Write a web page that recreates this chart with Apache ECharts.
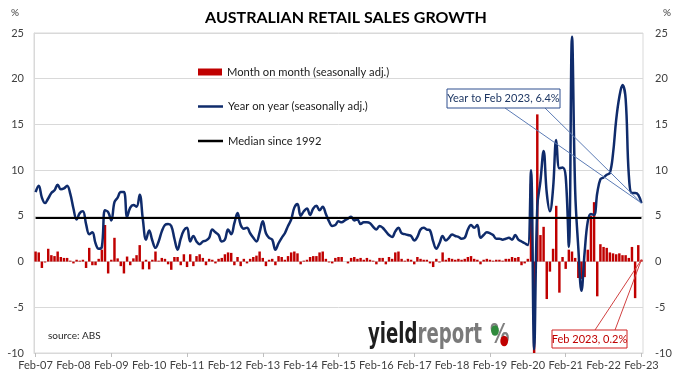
<!DOCTYPE html>
<html><head><meta charset="utf-8">
<script src="https://cdn.jsdelivr.net/npm/echarts/dist/echarts.min.js"></script>
<style>html,body{margin:0;padding:0;background:#fff}#c{width:690px;height:378px}</style>
</head><body><div id="c"></div>
<script>
// ---------- DATA ----------
const monthNames = ['Jan','Feb','Mar','Apr','May','Jun','Jul','Aug','Sep','Oct','Nov','Dec'];
// Feb-07 .. Feb-23 (193 months)
const categories = [];
for (let k = 0; k < 193; k++) {
  const m = (1 + k) % 12;
  const y = 7 + Math.floor((1 + k) / 12);
  categories.push(monthNames[m] + '-' + String(y).padStart(2, '0'));
}
const yTicks = [-10, -5, 0, 5, 10, 15, 20, 25];

// Month on month (seasonally adj.), %
const momChange = [
  1.1, 1.0, -0.7, -0.1, 1.4, 0.7, 0.6, 1.1, 0.5, 0.4, 0.4,               // Feb-Dec 07
  0.1, -0.2, 0.2, 0.1, 0.2, -0.7, 1.5, -0.4, -0.4, 0.3, 1.3, 4.0,        // 08
  -1.3, 0.2, 2.6, 0.35, -0.5, -1.3, 0.55, -0.4, 0.35, 0.7, 1.8, -0.85,   // 09
  0.2, -0.85, 0.2, 1.1, 0.1, 0.4, 0.3, -0.3, -0.9, 0.5, 0.5, -0.4,       // 10
  0.8, -0.6, 0.8, -0.5, 0.6, 0.8, 0.4, -0.4, 0.3, 0.2, -0.2, 0.3,        // 11
  0.4, 0.8, 1.0, 0.95, -0.4, 0.5, -0.5, 0.3, -0.2, 0.3, 0.5, 0.65,       // 12
  1.1, 0.4, -0.5, 0.2, 0.3, -0.4, 0.6, 0.5, 0.2, 0.6, 1.0, 1.1,          // 13
  0.9, -0.3, 0.1, 0.2, 0.5, 0.6, 0.6, 1.0, 1.1, 0.3, -0.1, -0.2,         // 14
  0.4, 0.5, 0.5, 0.0, -0.2, 0.4, 0.5, 0.3, 0.4, 0.2, 0.4, 0.2,           // 15
  0.1, -0.3, 0.4, 0.4, -0.3, 0.5, 0.3, 1.0, 1.1, 0.3, 0.1, 0.3,          // 16
  0.2, -0.3, 0.5, 0.3, 0.2, 0.2, -0.2, -0.6, 0.3, -0.1, 1.0, 0.2,        // 17
  0.4, 0.3, 0.2, 0.3, 0.2, 0.3, 0.5, 0.6, 0.3, 0.2, -0.3, 0.2,           // 18
  0.3, 0.2, 0.1, 0.2, 0.2, 0.1, 0.3, 0.3, 0.5, 0.4, 0.5, -0.4,           // 19
  -0.2, 0.3, 8.5, -17.7, 16.1, 2.9, 3.8, -4.1, -1.1, 1.4, 6.1, -3.4,     // 20
  0.5, -0.8, 1.3, 1.1, 0.4, -1.8, -1.9, -1.7, 1.3, 5.0, 6.5, -3.8,       // 21
  1.9, 1.6, 1.5, 1.0, 0.9, 0.8, 0.9, 0.7, 0.7, 0.4, 1.6, -4.0,           // 22
  1.8, 0.2                                                               // Jan-Feb 23
];

// Year on year (seasonally adj.), %
const yoyChange = [
  7.6, 8.3, 7.0, 6.4, 6.9, 7.5, 7.8, 8.4, 7.9, 8.0, 8.3,                 // Feb-Dec 07
  7.4, 5.8, 4.6, 5.3, 5.5, 4.1, 3.0, 3.2, 2.0, 1.4, 1.6, 5.6,            // 08
  5.4, 4.5, 6.5, 7.0, 7.6, 7.6, 4.9, 5.9, 6.2, 6.0, 7.3, 4.6,            // 09
  2.4, 3.4, 2.3, 1.5, 2.2, 3.3, 4.0, 4.1, 3.9, 2.5, 1.3, 2.5,            // 10
  3.4, 3.7, 2.2, 2.8, 2.2, 1.9, 2.2, 2.3, 2.6, 3.5, 3.2, 2.9,            // 11
  2.2, 2.4, 3.5, 3.0, 4.2, 5.3, 4.0, 3.6, 3.7, 3.1, 2.6, 2.2,            // 12
  3.2, 4.4, 3.1, 2.6, 2.4, 1.3, 2.0, 2.6, 3.1, 3.9, 4.6, 5.9,            // 13
  6.3, 5.0, 5.5, 5.8, 5.1, 5.8, 6.1, 5.6, 6.0, 5.2, 4.4, 3.9,            // 14
  4.0, 4.4, 4.3, 4.5, 4.7, 4.9, 4.5, 4.6, 4.1, 4.3, 4.3, 4.2,            // 15
  3.8, 3.5, 3.9, 3.7, 3.3, 2.9, 2.7, 3.3, 3.7, 3.1, 3.0, 2.9,            // 16
  2.8, 2.3, 2.7, 3.5, 3.7, 3.5, 3.4, 2.2, 1.4, 2.0, 2.8, 2.3,            // 17
  2.6, 2.95, 2.8, 2.7, 2.5, 2.6, 3.5, 4.0, 3.7, 4.0, 2.6, 2.9,           // 18
  3.2, 3.1, 2.9, 2.5, 2.5, 2.4, 2.5, 2.6, 2.4, 2.9, 2.4, 2.2,            // 19
  2.0, 1.8, 10.0, -9.6, 6.0, 8.8, 12.1, 7.5, 5.5, 8.0, 13.3, 10.2,       // 20
  10.3, 9.3, 1.6, 24.6, 7.8, 1.5, -3.2, 1.0, 4.4, 5.2, 5.1, 7.5,         // 21
  9.0, 9.2, 9.5, 9.7, 11.8, 15.5, 18.0, 19.3, 17.8, 9.5, 7.5, 7.5,       // 22
  7.3, 6.4                                                               // Jan-Feb 23
];

const medianSince1992 = 4.75;

const seriesNames = ['Month on month (seasonally adj.)', 'Year on year (seasonally adj.)', 'Median since 1992'];

// ---------- CHART ----------
const FONT = 'Lato, "Open Sans", sans-serif';
const LOGOFONT = '"DejaVu Sans Condensed", "DejaVu Sans", sans-serif';
const NAVY = '#0f2b6b';
const RED = '#c00000';
const chart = echarts.init(document.getElementById('c'), null, {renderer: 'canvas'});

const legendText = {fontSize: 11.2, color: '#1a1a1a', fontFamily: FONT};
const option = {
  animation: false,
  textStyle: {fontFamily: FONT},
  grid: {left: 34, right: 47, top: 33, bottom: 25, show: true, borderColor: '#d9d9d9', borderWidth: 1},
  xAxis: {
    type: 'category', data: categories, boundaryGap: true,
    axisLine: {onZero: false, lineStyle: {color: '#d9d9d9'}},
    axisTick: {show: true, alignWithLabel: true, interval: (i) => i % 24 === 0, length: 4, lineStyle: {color: '#bfbfbf'}},
    axisLabel: {interval: (i) => i % 12 === 0, color: '#404040', fontSize: 11, margin: 7, hideOverlap: false, fontFamily: FONT}
  },
  yAxis: [
    {type: 'value', min: yTicks[0], max: yTicks[yTicks.length - 1], interval: 5, position: 'left',
     axisLabel: {color: '#404040', fontSize: 11, margin: 10, fontFamily: FONT},
     axisLine: {show: true, lineStyle: {color: '#d9d9d9'}}, axisTick: {show: false},
     splitLine: {show: true, lineStyle: {color: '#d9d9d9', width: 1}}},
    {type: 'value', min: yTicks[0], max: yTicks[yTicks.length - 1], interval: 5, position: 'right',
     axisLabel: {color: '#404040', fontSize: 11, margin: 12, fontFamily: FONT},
     axisLine: {show: false}, axisTick: {show: false}, splitLine: {show: false}}
  ],
  legend: [
    {orient: 'vertical', left: 193, top: 61.5, itemWidth: 24, itemHeight: 7, itemGap: 23,
     textStyle: legendText, data: [{name: seriesNames[0], icon: 'rect'}]},
    {orient: 'vertical', left: 193, top: 96, itemWidth: 25, itemHeight: 2.5, itemGap: 23.5,
     textStyle: legendText, data: [{name: seriesNames[1], icon: 'rect'}, {name: seriesNames[2], icon: 'rect'}]}
  ],
  series: [
    {name: seriesNames[0], type: 'bar', data: momChange, clip: true, barCategoryGap: '22%',
     itemStyle: {color: RED}},
    {name: seriesNames[2], type: 'line', data: [], symbol: 'none',
     lineStyle: {color: '#000', width: 2}, itemStyle: {color: '#000'},
     markLine: {silent: true, symbol: 'none', label: {show: false}, lineStyle: {color: '#000', width: 2, type: 'solid'},
       data: [[{coord: [0, medianSince1992]}, {coord: [categories.length - 1, medianSince1992]}]]}},
    {name: seriesNames[1], type: 'line', data: yoyChange, smooth: 0.4, symbol: 'none', showSymbol: false,
     lineStyle: {color: NAVY, width: 2.5}, itemStyle: {color: NAVY}}
  ]
};
chart.setOption(option);

const last = categories.length - 1;
const pY = chart.convertToPixel({xAxisIndex: 0, yAxisIndex: 0}, [last, yoyChange[last]]);
const pM = chart.convertToPixel({xAxisIndex: 0, yAxisIndex: 0}, [last, momChange[last]]);

const graphics = [
  {type: 'text', style: {text: 'AUSTRALIAN RETAIL SALES GROWTH', x: 346, y: 18, textAlign: 'center', textVerticalAlign: 'middle', font: 'bold 16px ' + FONT, fill: '#000'}},
  {type: 'text', style: {text: '%', x: 15, y: 13, textAlign: 'center', textVerticalAlign: 'middle', font: '10px ' + FONT, fill: '#404040'}},
  {type: 'text', style: {text: '%', x: 667, y: 13, textAlign: 'center', textVerticalAlign: 'middle', font: '10px ' + FONT, fill: '#404040'}},
  {type: 'text', style: {text: 'source: ABS', x: 48, y: 336, textAlign: 'left', textVerticalAlign: 'middle', font: '10px ' + FONT, fill: '#262626'}},
  // logo
  {type: 'text', x: 368, y: 336, scaleX: 0.72, scaleY: 1, style: {
    text: '{a|yield}{b|report}', x: 0, y: 0, textAlign: 'left', textVerticalAlign: 'middle',
    rich: {
      a: {fontSize: 28, fontWeight: 'bold', fontFamily: LOGOFONT, fill: '#1e1e1e'},
      b: {fontSize: 28, fontWeight: 'bold', fontFamily: LOGOFONT, fill: '#7a7a7a'}
    }}},
  {type: 'text', x: 490, y: 336, scaleX: 0.8, style: {text: '%', x: 0, y: 0, textAlign: 'left', textVerticalAlign: 'middle', font: 'bold 27px ' + LOGOFONT, fill: '#808080'}},
  {type: 'circle', x: 495, y: 330.5, scaleX: 0.75, shape: {cx: 0, cy: 0, r: 5.2}, style: {fill: '#2f8a3c'}, z: 5},
  {type: 'circle', x: 504.2, y: 341, scaleX: 0.75, shape: {cx: 0, cy: 0, r: 5.2}, style: {fill: '#c00000'}, z: 5},
  // callout: year on year
  {type: 'polyline', shape: {points: [[505, 108], pY, [545, 108]]}, style: {stroke: '#5b7bb5', fill: null, lineWidth: 1}, z: 50},
  {type: 'rect', shape: {x: 447, y: 89, width: 113, height: 19}, style: {fill: '#fff', stroke: '#2f4f8f', lineWidth: 1}, z: 51},
  {type: 'text', style: {text: 'Year to Feb 2023, 6.4%', x: 503.5, y: 98.5, textAlign: 'center', textVerticalAlign: 'middle', font: '11px ' + FONT, fill: '#1f3864'}, z: 52},
  // callout: month on month
  {type: 'polyline', shape: {points: [[595, 330], pM, [615, 330]]}, style: {stroke: '#d04040', fill: null, lineWidth: 1}, z: 50},
  {type: 'rect', shape: {x: 552, y: 330, width: 75, height: 18}, style: {fill: '#fff', stroke: '#d02020', lineWidth: 1}, z: 51},
  {type: 'text', style: {text: 'Feb 2023, 0.2%', x: 589.5, y: 339, textAlign: 'center', textVerticalAlign: 'middle', font: '11px ' + FONT, fill: RED}, z: 52}
];
chart.setOption({graphic: graphics});
</script></body></html>
